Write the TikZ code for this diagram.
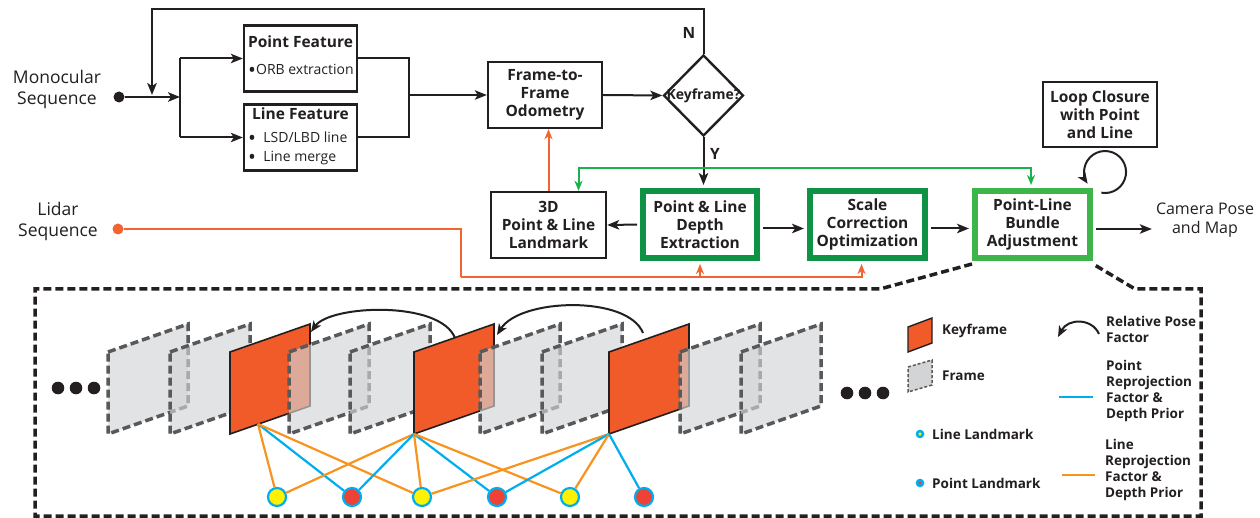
\documentclass[tikz,border=0pt]{standalone}
\usepackage{fontspec}
\setmainfont{Open Sans}
\usetikzlibrary{arrows.meta,shapes.geometric}
\definecolor{ink}{HTML}{231F20}
\definecolor{dkgreen}{HTML}{0E9345}
\definecolor{ltgreen}{HTML}{3DB54A}
\definecolor{lidar}{HTML}{F26531}
\definecolor{keyor}{HTML}{F15A29}
\definecolor{framegray}{HTML}{D3D4D6}
\definecolor{framedash}{HTML}{58595B}
\definecolor{lineor}{HTML}{F7941D}
\definecolor{ptblue}{HTML}{00AEEF}
\definecolor{lmyellow}{HTML}{FFF200}
\definecolor{lmred}{HTML}{EF4136}
\definecolor{loopgreen}{HTML}{1BB14C}
\newcommand\bigbul{\smash{\raisebox{-3.2pt}{\fontsize{21}{17}\selectfont •}}}
\tikzset{
  box/.style={draw=ink,line width=2.4pt,inner sep=0pt,align=center,text=ink,
    font=\bfseries\fontsize{15.5}{18}\selectfont},
  gbox/.style={box,draw=dkgreen,line width=6pt},
  lbox/.style={box,draw=ltgreen,line width=6pt},
  arr/.style={draw=ink,line width=2pt,-{Stealth[length=12pt,width=9.5pt,inset=3pt]}},
  plain/.style={draw=ink,line width=2pt},
  lidarl/.style={draw=lidar,line width=2pt},
  lidarr/.style={lidarl,-{Stealth[length=10pt,width=8pt,inset=3pt]}},
  gline/.style={draw=loopgreen,line width=2pt,{Stealth[length=10pt,width=8pt,inset=3pt]}-{Stealth[length=10pt,width=8pt,inset=3pt]}},
  lab/.style={inner sep=0pt,text=ink,align=center,font=\bfseries\fontsize{15.5}{18}\selectfont},
  reg/.style={inner sep=0pt,text=ink,font=\fontsize{14}{19}\selectfont},
  big/.style={inner sep=0pt,text=ink,align=center,font=\fontsize{17.5}{21}\selectfont},
  leg/.style={inner sep=0pt,text=ink,align=left,anchor=west,font=\bfseries\fontsize{13.5}{16}\selectfont},
  blob/.style={circle,fill=ink,inner sep=0pt,minimum size=#1},
  frm/.style={fill=framegray,fill opacity=0.65,draw=framedash,draw opacity=1,line width=3.5pt,dash pattern=on 8pt off 4pt},
  kfr/.style={fill=keyor,draw=ink,line width=1.6pt},
  ptl/.style={draw=ptblue,line width=2.2pt},
  lnl/.style={draw=lineor,line width=2.2pt},
  lmk/.style={circle,draw=ptblue,line width=2.2pt,fill=#1,minimum size=18pt,inner sep=0pt},
  rel/.style={draw=ink,line width=2pt,-{Stealth[length=11pt,width=9pt,inset=3pt]}},
  callout/.style={draw=ink,line width=3.5pt,dash pattern=on 8pt off 4pt},
}
\newcommand\drawframe[1]{\draw[frm] (#1,352) -- ++(80,-28) -- ++(0,82) -- ++(-80,28) -- cycle;}
\newcommand\drawkey[1]{\draw[kfr] (#1,352) -- ++(80,-28) -- ++(0,82) -- ++(-80,28) -- cycle;}
\begin{document}
\begin{tikzpicture}[x=1pt,y=-1pt]
\useasboundingbox (0,0) rectangle (1260,518);
% ---------- top pipeline ----------
\node[box,minimum width=113,minimum height=66] (pf) at (300.5,58.5) {};
\node[lab] at (300.5,42) {Point Feature};
\node[reg,anchor=west] at (248,69) {\bigbul ORB extraction};
\node[box,minimum width=113,minimum height=66] (lf) at (300.5,137.5) {};
\node[lab] at (300.5,114) {Line Feature};
\node[reg,anchor=west,align=left] at (248,148) {\bigbul\ \ LSD/LBD line\\\bigbul\ \ Line merge};
\node[box,minimum width=114,minimum height=66] (f2f) at (545,95) {Frame-to-\\Frame\\Odometry};
\node[diamond,draw=ink,line width=2.4pt,minimum width=80,minimum height=81,inner sep=0pt] (kf) at (703.5,95.5) {};
\node[lab,font=\bfseries\fontsize{14}{17}\selectfont] at (kf) {Keyframe?};
\node[lab] at (689,33) {N};
\node[lab] at (715,154) {Y};
\node[box,minimum width=115,minimum height=66] (lm) at (548.5,225) {3D\\Point \& Line\\Landmark};
\node[gbox,minimum width=114,minimum height=67] (dep) at (700,224.5) {Point \& Line\\Depth\\Extraction};
\node[gbox,minimum width=115,minimum height=67] (sco) at (867.5,224.5) {Scale\\Correction\\Optimization};
\node[lbox,minimum width=115,minimum height=67] (ba) at (1032.5,224.5) {Point-Line\\Bundle\\Adjustment};
\node[box,minimum width=114,minimum height=65] (lc) at (1100,114.5) {Loop Closure\\with Point\\and Line};
\node[big] (mtext) at (57,89) {Monocular\\Sequence};
\node[blob=11] (mono) at (119,97) {};
\node[big] (ltext) at (58,221) {Lidar\\Sequence};
\node[circle,fill=lidar,inner sep=0pt,minimum size=11] (lidar) at (118,229) {};
\node[big,font=\fontsize{16}{19}\selectfont] (cam) at (1205,220) {Camera Pose\\and Map};
% ---------- connectors ----------
\coordinate (jl) at (152,97);
\coordinate (jb) at (180,97);
\coordinate (jo) at (409,95);
\coordinate (top) at (0,9);
\coordinate (gy) at (0,168);
\coordinate (ly) at (461,277);
\draw[arr] (mono) -- (jb);
\draw[plain] (jb |- pf) -- (jb |- lf);
\draw[arr] (jb |- pf) -- (pf.west);
\draw[arr] (jb |- lf) -- (lf.west);
\draw[plain] (pf.east) -| (jo |- lf) -- (lf.east);
\draw[arr] (jo) -- (f2f.west);
\draw[arr] (f2f.east) -- (kf.west);
\draw[arr] (kf.north) -- (kf.north |- top) -| ([yshift=2pt]jl);
\draw[arr,shorten >=3pt] (kf.south) -- (kf.south |- dep.north);
\draw[gline,shorten >=3pt] ([xshift=30pt]lm.north) -- ([xshift=30pt]lm.north |- gy) -| ([xshift=-1.5pt]ba.north);
\draw[lidarr] (lm.north) -- (lm.north |- f2f.south);
\draw[lidarl] (lidar) -| (ly);
\draw[lidarr,shorten >=3pt] (ly) -| ([xshift=-6pt]sco.south);
\draw[lidarr,shorten >=3pt] (dep.south |- ly) -- (dep.south);
\draw[arr,shorten <=3pt] (dep.west) -- (lm.east);
\draw[arr,shorten <=3pt,shorten >=3pt] ([yshift=-4pt]dep.east) -- ([yshift=-4pt]sco.west);
\draw[arr,shorten <=3pt,shorten >=3pt] ([yshift=-4pt]sco.east) -- ([yshift=-4pt]ba.west);
\draw[arr,shorten <=3pt,shorten >=4pt] ([yshift=-4.5pt]ba.east) -- ([yshift=-4.5pt]ba.east -| cam.west);
\draw[rel,line width=2pt] ([xshift=8.4pt,yshift=-4.7pt]ba.north east) arc[start angle=100,end angle=-214,radius=21];
% ---------- callout ----------
\draw[callout] ([yshift=-3pt]ba.south west) -- (880,289) -- (35,289) -- (35,516) -- (1201,516) -- (1201,289) -- (1135,289) -- ([yshift=-3pt]ba.south east);
% ---------- frames ----------
\drawframe{108}
\drawframe{170}
\drawkey{230}
\drawframe{289}
\drawframe{350}
\drawkey{414}
\drawframe{480}
\drawframe{542}
\drawkey{609}
\drawframe{680}
\drawframe{741}
\foreach \xx in {58,76,94} \fill[ink] (\xx,388) circle[radius=6.3];
\foreach \xx in {847,865,883} \fill[ink] (\xx,393) circle[radius=6.3];
% relative pose factors
\coordinate (ra1) at (455,338);
\coordinate (rb1) at (311,332);
\coordinate (ra2) at (643,333);
\coordinate (rb2) at (497,335);
\draw[rel] (ra1) .. controls (440,300) and (330,305) .. (rb1);
\draw[rel] (ra2) .. controls (628,295) and (520,298) .. (rb2);
% landmarks
\coordinate (k1) at (258,424);
\coordinate (k2) at (414,434);
\coordinate (k3) at (609,434);
\node[lmk=lmyellow] (L1) at (277,497) {};
\node[lmk=lmred] (P1) at (352,497) {};
\node[lmk=lmyellow] (L2) at (422,497) {};
\node[lmk=lmred] (P2) at (497,497) {};
\node[lmk=lmyellow] (L3) at (570,497) {};
\node[lmk=lmred] (P3) at (644,497) {};
\draw[lnl] (k1) -- (L1);
\draw[ptl] (k1) -- (P1);
\draw[lnl] (k1) -- (L2);
\draw[lnl] (k2) -- (L1);
\draw[ptl] (k2) -- (P1);
\draw[lnl] (k2) -- (L2);
\draw[ptl] (k2) -- (P2);
\draw[lnl] (k2) -- (L3);
\draw[lnl] (k3) -- (L2);
\draw[ptl] (k3) -- (P2);
\draw[lnl] (k3) -- (L3);
\draw[ptl] (k3) -- (P3);
% ---------- legend ----------
\draw[kfr,line width=1.4pt] (908,327) -- (932,318) -- (932,343) -- (908,352) -- cycle;
\node[leg] at (942,331) {Keyframe};
\draw[fill=framegray,draw=framedash,line width=1.5pt,dash pattern=on 3pt off 2pt] (908,367) -- (932,360) -- (932,385) -- (908,392) -- cycle;
\node[leg] at (942,376) {Frame};
\node[lmk=lmyellow,minimum size=6,line width=2.5pt] at (920,434) {};
\node[leg] at (932,434) {Line Landmark};
\node[lmk=lmred,minimum size=6,line width=2.5pt] at (920,483) {};
\node[leg] at (932,483) {Point Landmark};
\coordinate (rl1) at (1099,334);
\coordinate (rl2) at (1058,337);
\draw[rel] (rl1) .. controls (1092,318) and (1068,318) .. (rl2);
\node[leg] at (1106,329.5) {Relative Pose\\Factor};
\draw[ptl,line width=2.5pt] (1059,397) -- (1093,397);
\node[leg] at (1106,391) {Point\\Reprojection\\Factor \&\\Depth Prior};
\draw[lnl,line width=2.5pt] (1062,475) -- (1095,475);
\node[leg] at (1105,469.5) {Line\\Reprojection\\Factor \&\\Depth Prior};
\end{tikzpicture}
\end{document}
